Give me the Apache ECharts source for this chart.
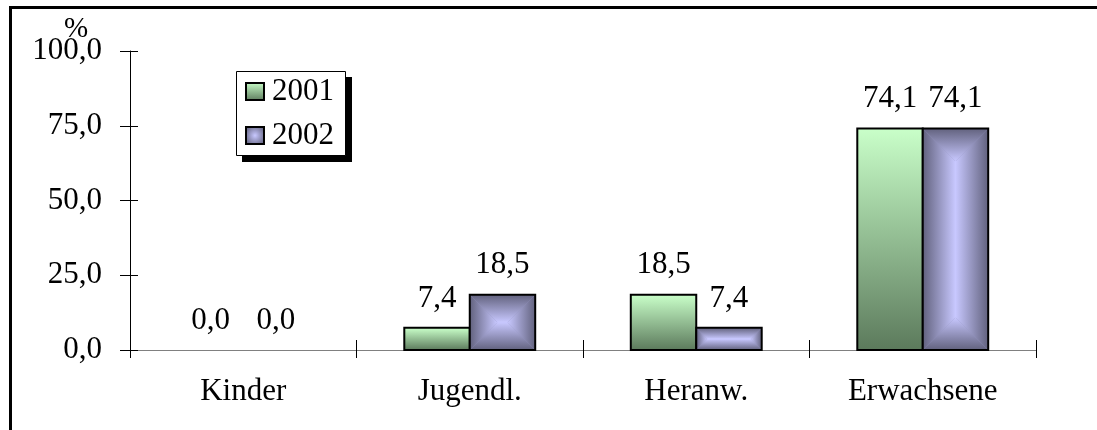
<!DOCTYPE html>
<html><head><meta charset="utf-8">
<script src="https://cdn.jsdelivr.net/npm/echarts@6/dist/echarts.min.js"></script>
<style>html,body{margin:0;padding:0;background:#fff}#c{width:1097px;height:430px}</style>
</head><body><div id="c"></div>
<script>
const categories = ['Kinder', 'Jugendl.', 'Heranw.', 'Erwachsene'];
const values2001 = [0.0, 7.4, 18.5, 74.1];
const values2002 = [0.0, 18.5, 7.4, 74.1];
const seriesNames = ['2001', '2002'];
const yMin = 0, yMax = 100, yStep = 25;
const yUnit = '%';

const FONT = "'Liberation Serif', 'Times New Roman', serif";
const FS = 31;
const fmt = v => Number(v).toFixed(1).replace('.', ',');

const greenGrad = () => new echarts.graphic.LinearGradient(0, 0, 0, 1, [
  {offset: 0, color: '#C9FFC9'}, {offset: 1, color: '#5C7A5C'}]);
const DARK = '#62627E', LIGHT = '#C8C8FF';
const lg = (a, b, c, d) => new echarts.graphic.LinearGradient(a, b, c, d, [
  {offset: 0, color: DARK}, {offset: 1, color: LIGHT}]);

function greenFill(x0, y0, w, h) {
  return [{type: 'rect', shape: {x: x0, y: y0, width: w, height: h}, style: {fill: greenGrad()}}];
}
function pyramidFill(x0, y0, w, h) {
  const d = Math.min(w, h) / 2, x1 = x0 + w, y1 = y0 + h;
  const out = [{type: 'rect', shape: {x: x0, y: y0, width: w, height: h}, style: {fill: '#9090BC'}}];
  out.push({type: 'polygon', shape: {points: [[x0, y0], [x0 + d, y0 + d], [x0 + d, y1 - d], [x0, y1]]}, style: {fill: lg(0, 0, 1, 0)}});
  out.push({type: 'polygon', shape: {points: [[x1, y0], [x1 - d, y0 + d], [x1 - d, y1 - d], [x1, y1]]}, style: {fill: lg(1, 0, 0, 0)}});
  out.push({type: 'polygon', shape: {points: [[x0, y0], [x1, y0], [x1 - d, y0 + d], [x0 + d, y0 + d]]}, style: {fill: lg(0, 0, 0, 1)}});
  out.push({type: 'polygon', shape: {points: [[x0, y1], [x1, y1], [x1 - d, y1 - d], [x0 + d, y1 - d]]}, style: {fill: lg(0, 1, 0, 0)}});
  if (w - 2 * d > 0.5 && h - 2 * d > 0.5) {
    out.push({type: 'rect', shape: {x: x0 + d, y: y0 + d, width: w - 2 * d, height: h - 2 * d}, style: {fill: LIGHT}});
  } else if (w - 2 * d > 0.5) {
    out.push({type: 'rect', shape: {x: x0 + d, y: y0 + d - 0.5, width: w - 2 * d, height: 1}, style: {fill: LIGHT}});
  } else if (h - 2 * d > 0.5) {
    out.push({type: 'rect', shape: {x: x0 + d - 0.5, y: y0 + d, width: 1, height: h - 2 * d}, style: {fill: LIGHT}});
  }
  return out;
}

function makeRender(side, fillFn) {
  return function (params, api) {
    const cat = api.value(0), v = api.value(1);
    const base = api.coord([cat, 0]);
    const top = api.coord([cat, v]);
    const bandW = api.size([1, 0])[0];
    const bw = bandW * 0.289;
    const x0 = side === 0 ? base[0] - bw : base[0];
    const h = base[1] - top[1];
    const children = [];
    if (h > 0.5) {
      fillFn(x0, top[1], bw, h).forEach(c => children.push(c));
      children.push({type: 'rect', shape: {x: x0, y: top[1], width: bw, height: h},
        style: {fill: null, stroke: '#000', lineWidth: 2}});
    }
    children.push({type: 'text', x: x0 + bw / 2, y: top[1] - 14,
      style: {text: fmt(v), fontFamily: FONT, fontSize: FS, fill: '#000', align: 'center', verticalAlign: 'bottom'}});
    return {type: 'group', children: children};
  };
}

const chart = echarts.init(document.getElementById('c'), null, {renderer: 'canvas'});
const catAxisBase = {
  type: 'category', data: categories, gridIndex: 0, position: 'bottom',
  axisLine: {show: true, lineStyle: {color: '#808080', width: 1}},
  splitLine: {show: false}
};
const valAxisBase = {
  type: 'value', min: yMin, max: yMax, interval: yStep, gridIndex: 0, position: 'left',
  splitLine: {show: false}
};
chart.setOption({
  animation: false,
  backgroundColor: '#fff',
  grid: {left: 130, right: 61, top: 51, bottom: 80, containLabel: false, outerBoundsMode: 'none'},
  legend: {
    orient: 'vertical', left: 236, top: 71, data: seriesNames,
    icon: 'rect', itemWidth: 18, itemHeight: 17, itemGap: 13,
    padding: [5, 13, 6, 9],
    backgroundColor: 'transparent', borderWidth: 0,
    textStyle: {fontFamily: FONT, fontSize: FS, color: '#000', padding: [0, 0, 0, 3]},
    itemStyle: {borderColor: '#000', borderWidth: 2},
    selectedMode: false
  },
  xAxis: [
    Object.assign({}, catAxisBase, {
      axisTick: {show: true, length: 8, inside: false, lineStyle: {color: '#000', width: 1}},
      axisLabel: {margin: 26, fontFamily: FONT, fontSize: FS, color: '#000'}
    }),
    Object.assign({}, catAxisBase, {
      axisLine: {show: false},
      axisTick: {show: true, length: 10, inside: true, lineStyle: {color: '#000', width: 1}},
      axisLabel: {show: false}
    })
  ],
  yAxis: [
    Object.assign({}, valAxisBase, {
      axisLine: {show: true, lineStyle: {color: '#000', width: 1}},
      axisTick: {show: true, length: 10, inside: false, lineStyle: {color: '#000', width: 1}},
      axisLabel: {margin: 28, fontFamily: FONT, fontSize: FS, color: '#000', formatter: v => fmt(v)}
    }),
    Object.assign({}, valAxisBase, {
      axisLine: {show: false},
      axisTick: {show: true, length: 8, inside: true, lineStyle: {color: '#000', width: 1}},
      axisLabel: {show: false}
    })
  ],
  graphic: [
    {type: 'rect', z: -10, shape: {x: 10.5, y: 7.5, width: 1200, height: 600},
      style: {fill: null, stroke: '#000', lineWidth: 3}},
    {type: 'rect', z: 1, shape: {x: 242, y: 77, width: 110, height: 85}, style: {fill: '#000'}},
    {type: 'rect', z: 2, shape: {x: 236.5, y: 71.5, width: 109, height: 84}, style: {fill: '#fff', stroke: '#000', lineWidth: 1}},
    {type: 'text', x: 76, y: 29, style: {text: yUnit, fontFamily: FONT, fontSize: 29, fill: '#000', align: 'center', verticalAlign: 'middle'}}
  ],
  series: [
    {name: seriesNames[0], type: 'custom', xAxisIndex: 0, yAxisIndex: 0,
      itemStyle: {color: greenGrad(), borderColor: '#000', borderWidth: 2},
      renderItem: makeRender(0, greenFill),
      data: values2001.map((v, i) => [i, v])},
    {name: seriesNames[1], type: 'custom', xAxisIndex: 0, yAxisIndex: 0,
      itemStyle: {color: new echarts.graphic.RadialGradient(0.5, 0.5, 0.6, [{offset: 0, color: LIGHT}, {offset: 1, color: DARK}]), borderColor: '#000', borderWidth: 2},
      renderItem: makeRender(1, pyramidFill),
      data: values2002.map((v, i) => [i, v])}
  ]
});
</script></body></html>
